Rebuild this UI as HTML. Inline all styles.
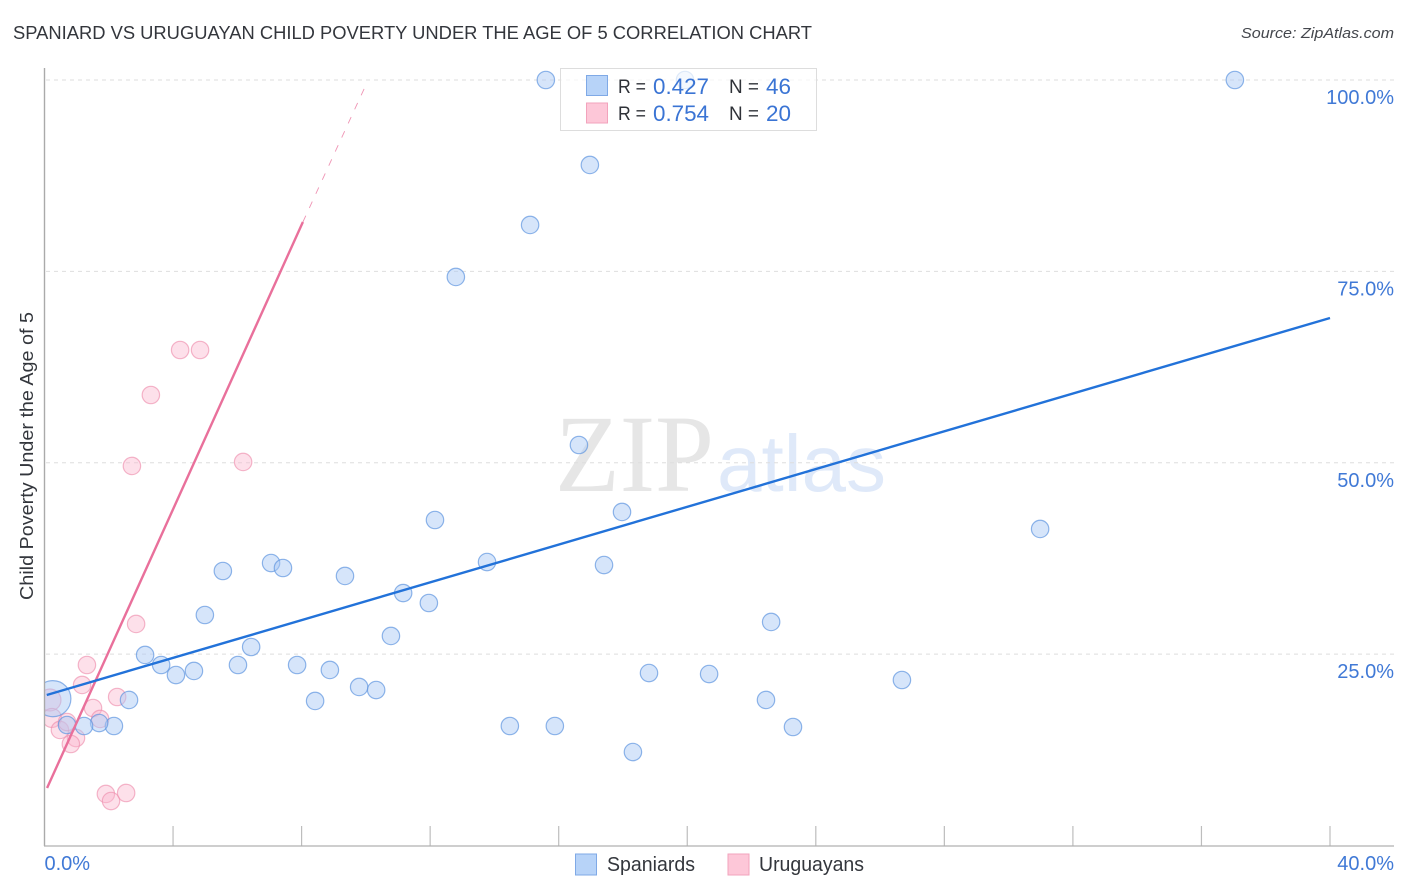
<!DOCTYPE html>
<html lang="en">
<head>
<meta charset="utf-8">
<title>Spaniard vs Uruguayan Child Poverty Correlation Chart</title>
<style>
html,body{margin:0;padding:0;background:#fff;width:1406px;height:892px;overflow:hidden}
svg{display:block;font-family:"Liberation Sans",sans-serif}
</style>
</head>
<body>
<svg id="chart" xmlns="http://www.w3.org/2000/svg" width="1406" height="892" viewBox="0 0 1406 892">
  <text x="13" y="39" font-size="18" fill="#33363c" textLength="799" lengthAdjust="spacingAndGlyphs">SPANIARD VS URUGUAYAN CHILD POVERTY UNDER THE AGE OF 5 CORRELATION CHART</text>
  <text x="1241" y="38" font-size="15" font-style="italic" fill="#44474d" textLength="153" lengthAdjust="spacingAndGlyphs">Source: ZipAtlas.com</text>
  <text x="555" y="491" style="font-family:'Liberation Serif',serif" font-size="110" fill="#e6e6e6" textLength="159" lengthAdjust="spacingAndGlyphs">ZIP</text>
  <text x="717" y="491" style="font-family:'Liberation Sans',sans-serif" font-size="80" fill="#dfe9f9" textLength="169" lengthAdjust="spacingAndGlyphs">atlas</text>
  <g id="grid"></g>
  <g id="x-ticks"></g>
  <g id="y-labels"></g>
  <g id="x-labels"></g>
  <text transform="translate(33,456) rotate(-90)" text-anchor="middle" font-size="18" fill="#33363c" textLength="288" lengthAdjust="spacingAndGlyphs">Child Poverty Under the Age of 5</text>
  <svg id="marks" x="44.5" y="60" width="1350" height="786" viewBox="44.5 60 1350 786" overflow="hidden" style="overflow:hidden">
    <g id="uruguayan-points"></g>
    <g id="spaniard-points"></g>
    <g id="trend-lines"></g>
  </svg>
  <line x1="44.5" y1="68" x2="44.5" y2="846" stroke="#aaaaaa" stroke-width="1.4"></line>
  <line x1="44" y1="846" x2="1394" y2="846" stroke="#b0b0b0" stroke-width="1.2"></line>
  <g>
    <rect x="560.5" y="68.5" width="256" height="62" fill="#ffffff" fill-opacity="0.72" stroke="#dddddd" stroke-width="1"></rect>
    <rect x="586.5" y="75.5" width="21" height="20" fill="#b7d3f8" stroke="#7fa9e6"></rect>
    <rect x="586.5" y="103" width="21" height="20" fill="#fdc7d8" stroke="#f2a3bc"></rect>
    <text x="618" y="93" font-size="19" fill="#2f3238" textLength="28" lengthAdjust="spacingAndGlyphs">R =</text>
    <text x="653" y="94" font-size="22" fill="#3a74d4" textLength="56" lengthAdjust="spacingAndGlyphs">0.427</text>
    <text x="729" y="93" font-size="19" fill="#2f3238" textLength="30" lengthAdjust="spacingAndGlyphs">N =</text>
    <text x="766" y="94" font-size="22" fill="#3a74d4" textLength="25" lengthAdjust="spacingAndGlyphs">46</text>
    <text x="618" y="120" font-size="19" fill="#2f3238" textLength="28" lengthAdjust="spacingAndGlyphs">R =</text>
    <text x="653" y="121" font-size="22" fill="#3a74d4" textLength="56" lengthAdjust="spacingAndGlyphs">0.754</text>
    <text x="729" y="120" font-size="19" fill="#2f3238" textLength="30" lengthAdjust="spacingAndGlyphs">N =</text>
    <text x="766" y="121" font-size="22" fill="#3a74d4" textLength="25" lengthAdjust="spacingAndGlyphs">20</text>
  </g>
  <g>
    <rect x="575.5" y="854" width="21" height="21" fill="#b7d3f8" stroke="#7fa9e6"></rect>
    <text x="607" y="871" font-size="20" fill="#33363c" textLength="88" lengthAdjust="spacingAndGlyphs">Spaniards</text>
    <rect x="728" y="854" width="21" height="21" fill="#fdc7d8" stroke="#f2a3bc"></rect>
    <text x="759" y="871" font-size="20" fill="#33363c" textLength="105" lengthAdjust="spacingAndGlyphs">Uruguayans</text>
  </g>
</svg>
<script>
const yGridValues = [25, 50, 75, 100];
const yTickLabels = ["25.0%", "50.0%", "75.0%", "100.0%"];
const xTickValues = [4, 8, 12, 16, 20, 24, 28, 32, 36, 40];
const xLabelValues = [0, 40];
const xLabelTexts = ["0.0%", "40.0%"];

const spaniardX = [15.60, 19.93, 37.04, 16.97, 15.11, 12.80, 16.63, 17.97, 12.15, 30.98, 13.77, 17.41, 7.05, 7.42, 5.55, 9.35, 11.16, 11.96, 4.99, 22.61, 10.78, 6.43, 3.13, 3.63, 4.09, 4.65, 6.02, 7.86, 8.88, 9.79, 10.32, 18.81, 20.68, 26.68, 8.42, 22.45, 2.63, 14.48, 15.88, 23.29, 18.31, 2.16, 1.70, 1.23, 0.70, 0.26];
const spaniardY = [100, 100, 100, 88.90, 81.06, 74.27, 52.32, 43.57, 42.52, 41.35, 37.03, 36.64, 36.90, 36.25, 35.86, 35.21, 32.98, 31.68, 30.11, 29.20, 27.37, 25.93, 24.89, 23.58, 22.27, 22.80, 23.58, 23.58, 22.93, 20.71, 20.31, 22.53, 22.40, 21.62, 18.88, 19.01, 19.01, 15.61, 15.61, 15.48, 12.21, 15.61, 16.00, 15.61, 15.74, 19.18];
const spaniardWeight = [1, 1, 1, 1, 1, 1, 1, 1, 1, 1, 1, 1, 1, 1, 1, 1, 1, 1, 1, 1, 1, 1, 1, 1, 1, 1, 1, 1, 1, 1, 1, 1, 1, 1, 1, 1, 1, 1, 1, 1, 1, 1, 1, 1, 1, 4.3];

const uruguayanX = [4.22, 4.84, 3.31, 2.72, 6.18, 2.85, 1.32, 1.17, 2.26, 1.51, 1.73, 0.17, 0.23, 0.48, 0.70, 0.98, 0.82, 1.91, 2.07, 2.54];
const uruguayanY = [64.73, 64.73, 58.85, 49.58, 50.10, 28.94, 23.58, 20.97, 19.40, 17.96, 16.53, 19.01, 16.66, 15.09, 16.13, 14.04, 13.26, 6.73, 5.81, 6.86];
const uruguayanWeight = [1, 1, 1, 1, 1, 1, 1, 1, 1, 1, 1, 1.6, 1.2, 1, 1, 1, 1, 1, 1, 1];

const spaniardTrendX = [0.07, 40];
const spaniardTrendY = [19.66, 68.91];
const uruguayanTrendX = [0.08, 8.04];
const uruguayanTrendY = [7.51, 81.45];
const uruguayanDashX = [8.04, 10.0];
const uruguayanDashY = [81.45, 99.35];

const SVG_NS = "http://www.w3.org/2000/svg";
function xScale(v) { return 44.5 + v * (1330 - 44.5) / 40; }
function yScale(v) { return 845.5 - v * 7.655; }
function rScale(w) { return 8.7 * Math.sqrt(w); }
function make(tag, attrs) {
  const el = document.createElementNS(SVG_NS, tag);
  for (const k in attrs) el.setAttribute(k, attrs[k]);
  return el;
}

const gridGroup = document.getElementById("grid");
yGridValues.forEach(function (v) {
  const line = make("line", { x1: 46, x2: 1394, y1: yScale(v), y2: yScale(v), stroke: "#dedede", "stroke-width": 1, "stroke-dasharray": "4 4" });
  
  
  gridGroup.appendChild(line);
});

const xTickGroup = document.getElementById("x-ticks");
xTickValues.forEach(function (v) {
  const tick = make("line", { x1: xScale(v), x2: xScale(v), y1: 826, y2: 846, stroke: "#bdbdbd", "stroke-width": 1.2 });
  
  
  xTickGroup.appendChild(tick);
});

const yLabelGroup = document.getElementById("y-labels");
yGridValues.forEach(function (v, i) {
  const label = make("text", { x: 1394, y: yScale(v) + 24, "text-anchor": "end", "font-size": 20, fill: "#4079d6" });
  label.textContent = yTickLabels[i];
  
  
  yLabelGroup.appendChild(label);
});

const xLabelGroup = document.getElementById("x-labels");
xLabelValues.forEach(function (v, i) {
  const isLast = i === xLabelValues.length - 1;
  const label = make("text", { x: isLast ? 1394 : xScale(v), y: 870, "text-anchor": isLast ? "end" : "start", "font-size": 20, fill: "#4079d6" });
  label.textContent = xLabelTexts[i];
  
  
  xLabelGroup.appendChild(label);
});

const uruguayanGroup = document.getElementById("uruguayan-points");
uruguayanX.forEach(function (v, i) {
  const c = make("circle", { cx: xScale(v), cy: yScale(uruguayanY[i]), r: rScale(uruguayanWeight[i]), fill: "#fbb6cc", "fill-opacity": 0.42, stroke: "#ee8fae", "stroke-opacity": 0.65, "stroke-width": 1.2 });
  
  
  uruguayanGroup.appendChild(c);
});

const spaniardGroup = document.getElementById("spaniard-points");
spaniardX.forEach(function (v, i) {
  const c = make("circle", { cx: xScale(v), cy: yScale(spaniardY[i]), r: rScale(spaniardWeight[i]), fill: "#a9c9f4", "fill-opacity": 0.48, stroke: "#5f95e0", "stroke-opacity": 0.7, "stroke-width": 1.2 });
  
  
  spaniardGroup.appendChild(c);
});

const trendGroup = document.getElementById("trend-lines");
const uruguayanDash = make("line", { x1: xScale(uruguayanDashX[0]), y1: yScale(uruguayanDashY[0]), x2: xScale(uruguayanDashX[1]), y2: yScale(uruguayanDashY[1]), stroke: "#e9709b", "stroke-opacity": 0.75, "stroke-width": 0.9, "stroke-dasharray": "7 8.5" });


trendGroup.appendChild(uruguayanDash);

const uruguayanTrend = make("line", { x1: xScale(uruguayanTrendX[0]), y1: yScale(uruguayanTrendY[0]), x2: xScale(uruguayanTrendX[1]), y2: yScale(uruguayanTrendY[1]), stroke: "#e9709b", "stroke-width": 2.4 });


trendGroup.appendChild(uruguayanTrend);

const spaniardTrend = make("line", { x1: xScale(spaniardTrendX[0]), y1: yScale(spaniardTrendY[0]), x2: xScale(spaniardTrendX[1]), y2: yScale(spaniardTrendY[1]), stroke: "#2272d9", "stroke-width": 2.4 });


trendGroup.appendChild(spaniardTrend);
</script>
</body>
</html>
